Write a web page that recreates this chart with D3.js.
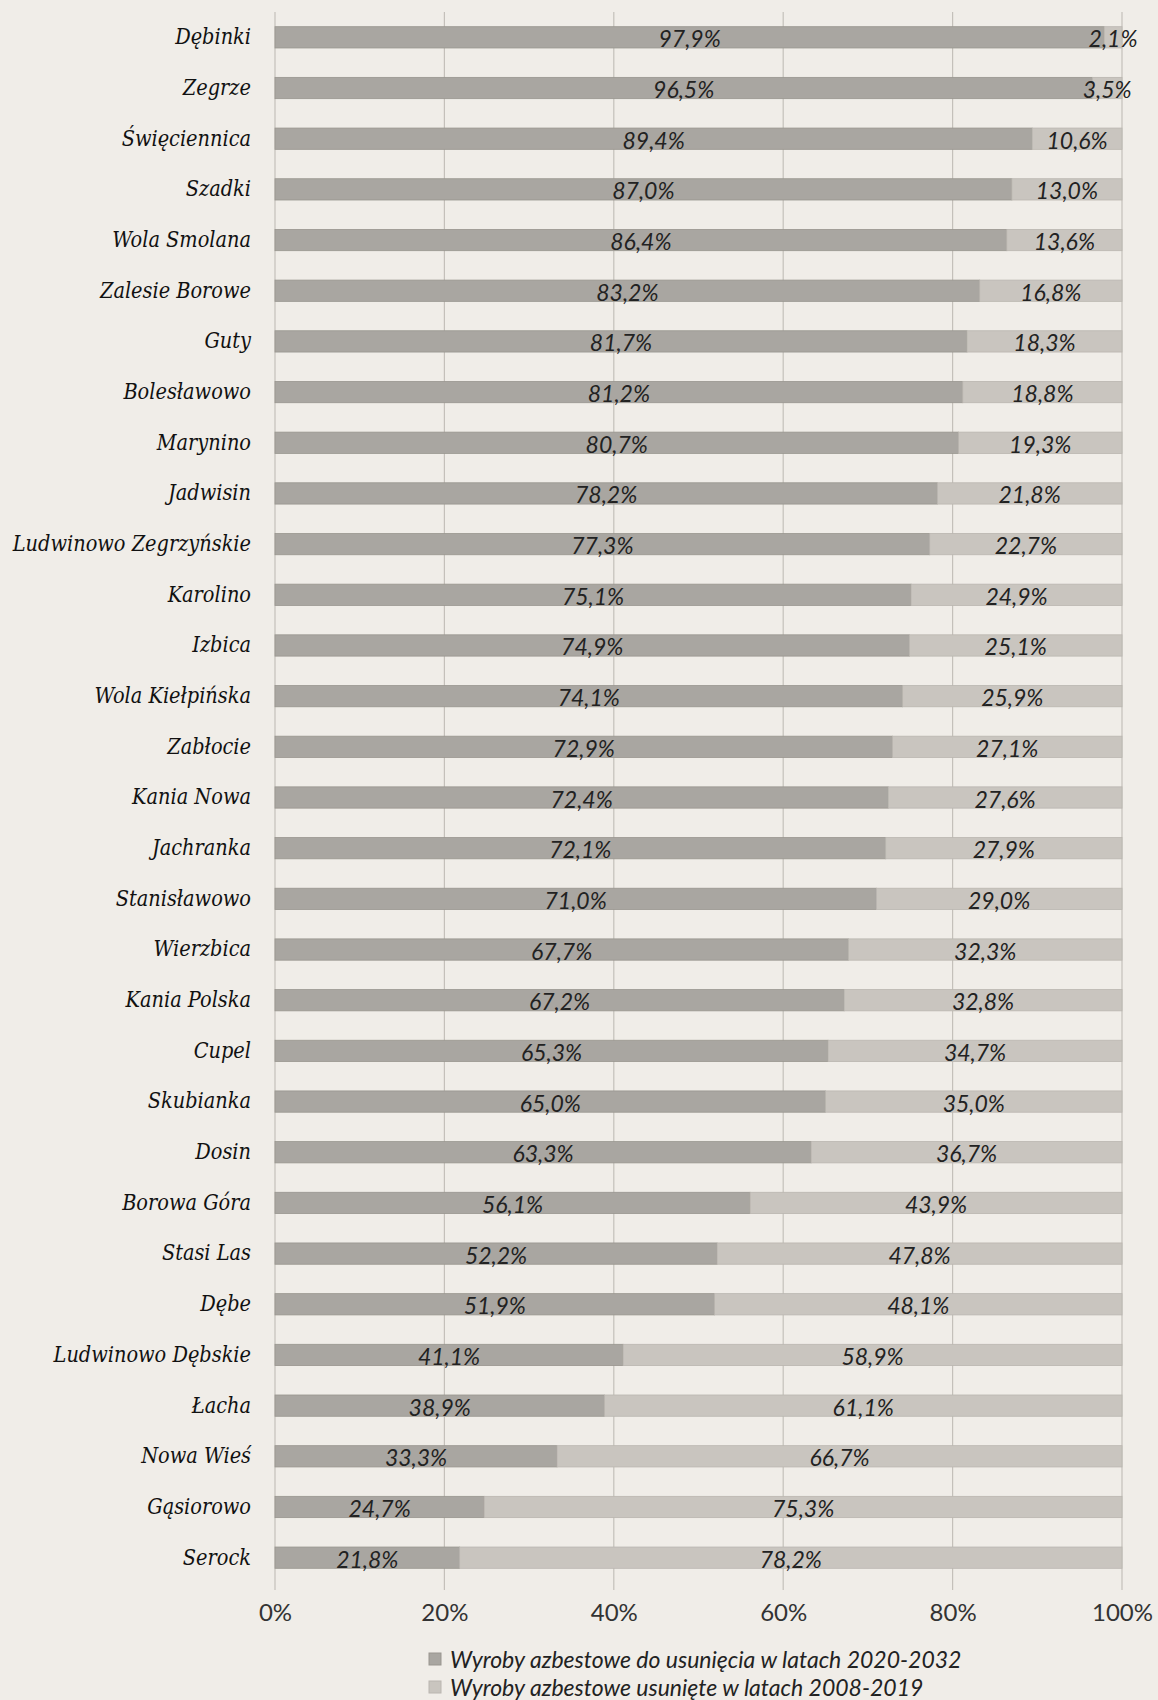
<!DOCTYPE html>
<html>
<head>
<meta charset="utf-8">
<script src="https://cdn.jsdelivr.net/npm/d3@7"></script>
<style>
  html, body { margin: 0; padding: 0; background: #f0ede8; }
  svg { display: block; }
</style>
</head>
<body>
<script>
const categories = ["Dębinki","Zegrze","Święciennica","Szadki","Wola Smolana","Zalesie Borowe","Guty","Bolesławowo","Marynino","Jadwisin","Ludwinowo Zegrzyńskie","Karolino","Izbica","Wola Kiełpińska","Zabłocie","Kania Nowa","Jachranka","Stanisławowo","Wierzbica","Kania Polska","Cupel","Skubianka","Dosin","Borowa Góra","Stasi Las","Dębe","Ludwinowo Dębskie","Łacha","Nowa Wieś","Gąsiorowo","Serock"];
const toRemove = [97.9,96.5,89.4,87.0,86.4,83.2,81.7,81.2,80.7,78.2,77.3,75.1,74.9,74.1,72.9,72.4,72.1,71.0,67.7,67.2,65.3,65.0,63.3,56.1,52.2,51.9,41.1,38.9,33.3,24.7,21.8];
const removed = [2.1,3.5,10.6,13.0,13.6,16.8,18.3,18.8,19.3,21.8,22.7,24.9,25.1,25.9,27.1,27.6,27.9,29.0,32.3,32.8,34.7,35.0,36.7,43.9,47.8,48.1,58.9,61.1,66.7,75.3,78.2];
const seriesNames = ["Wyroby azbestowe do usunięcia w latach 2020-2032","Wyroby azbestowe usunięte w latach 2008-2019"];
const tickValues = [0,20,40,60,80,100];

const W = 1158, H = 1700;
const colors = ["#a9a6a1", "#c9c5bf"];
const strokes = ["#99968f", "#bab6b0"];
const labelFont = '"DejaVu Serif Condensed","DejaVu Serif",serif';
const numFont = 'Lato,"Open Sans",sans-serif';

const svg = d3.select("body").append("svg").attr("width", W).attr("height", H);
svg.append("rect").attr("width", W).attr("height", H).attr("fill", "#f0ede8");

const x = d3.scaleLinear().domain([0, 100]).range([275, 1122]);
const y = d3.scaleBand().domain(categories).range([12, 1583]).paddingInner(0.58).paddingOuter(0.29);

const fmt = v => d3.format(".1f")(v).replace(".", ",") + "%";

// gridlines
svg.append("g").selectAll("line").data(tickValues).join("line")
  .attr("x1", d => x(d)).attr("x2", d => x(d))
  .attr("y1", 12).attr("y2", 1590)
  .attr("stroke", "#c4c0ba").attr("stroke-width", 1.2);

// axis tick labels
const xAxis = d3.axisBottom(x).tickValues(tickValues).tickSize(0).tickPadding(0).tickFormat(d => d + "%");
const gx = svg.append("g").attr("transform", "translate(0,1604)").call(xAxis);
gx.select(".domain").remove();
gx.selectAll("text").attr("font-family", numFont).attr("font-weight", 400).attr("font-size", 24).attr("fill", "#333").attr("dy", "0.71em");

const rows = categories.map((c, i) => ({c, a: toRemove[i], b: removed[i]}));

const g = svg.append("g");
const row = g.selectAll("g.row").data(rows).join("g").attr("class", "row");

row.append("rect")
  .attr("x", d => x(0)).attr("y", d => y(d.c))
  .attr("width", d => x(d.a) - x(0)).attr("height", y.bandwidth())
  .attr("fill", colors[0]).attr("stroke", strokes[0]).attr("stroke-width", 0.8);
row.append("rect")
  .attr("x", d => x(d.a)).attr("y", d => y(d.c))
  .attr("width", d => x(d.a + d.b) - x(d.a)).attr("height", y.bandwidth())
  .attr("fill", colors[1]).attr("stroke", strokes[1]).attr("stroke-width", 0.8);

function valLabel(sel) {
  sel.attr("text-anchor", "middle").attr("dominant-baseline", "central")
    .attr("font-family", numFont).attr("font-style", "italic").attr("font-weight", 400)
    .attr("font-size", 23).attr("fill", "#222");
}
row.append("text")
  .attr("x", d => (x(0) + x(d.a)) / 2).attr("y", d => y(d.c) + y.bandwidth() / 2 + 1)
  .call(valLabel).text(d => fmt(d.a));
row.append("text")
  .attr("x", d => (x(d.a) + x(d.a + d.b)) / 2).attr("y", d => y(d.c) + y.bandwidth() / 2 + 1)
  .call(valLabel).text(d => fmt(d.b));

// category labels
const yAxis = d3.axisLeft(y).tickSize(0).tickPadding(0);
const gy = svg.append("g").attr("transform", "translate(251,0)").call(yAxis);
gy.select(".domain").remove();
gy.selectAll("text").attr("font-family", labelFont).attr("font-style", "italic").attr("font-size", 21.5).attr("fill", "#111");

// legend
const lg = svg.append("g").selectAll("g").data(seriesNames).join("g")
  .attr("transform", (d, i) => `translate(429,${1659 + i * 28})`);
lg.append("rect").attr("x", 0).attr("y", -6).attr("width", 12).attr("height", 12)
  .attr("fill", (d, i) => colors[i]).attr("stroke", (d, i) => strokes[i]);
lg.append("text").attr("x", 21).attr("y", 0).attr("dominant-baseline", "central")
  .attr("font-family", numFont).attr("font-style", "italic").attr("font-weight", 400).attr("font-size", 23).attr("fill", "#222")
  .text(d => d);
</script>
</body>
</html>
